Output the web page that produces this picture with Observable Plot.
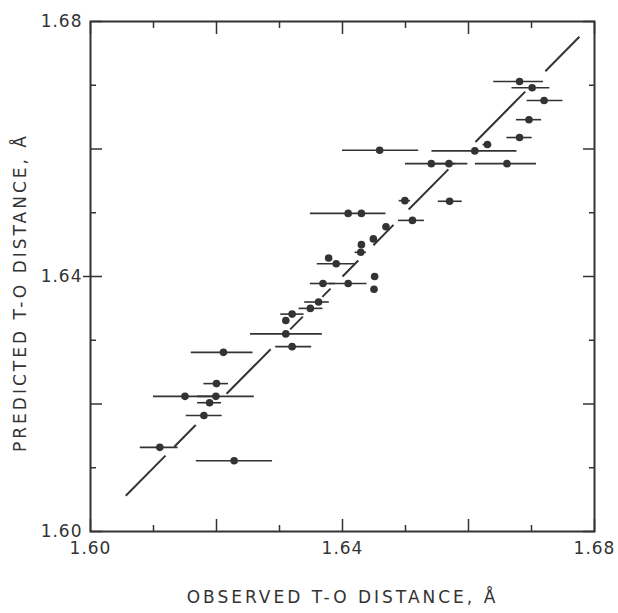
<!DOCTYPE html>
<html>
<head>
<meta charset="utf-8">
<script src="https://cdn.jsdelivr.net/npm/d3@7"></script>
<script src="https://cdn.jsdelivr.net/npm/@observablehq/plot@0.6"></script>
<style>
  html, body { margin: 0; padding: 0; background: #fff; }
  #chart svg { display: block; }
</style>
</head>
<body>
<div id="chart"></div>
<script>
// Observed T-O distance (x), predicted T-O distance (y), and horizontal error-bar limits
const obs   = [1.6211, 1.6150, 1.6199, 1.6200, 1.6189, 1.6180, 1.6110, 1.6228,
               1.6320, 1.6310, 1.6310, 1.6320, 1.6349, 1.6362, 1.6369, 1.6409,
               1.6451, 1.6450, 1.6390, 1.6378, 1.6429, 1.6430, 1.6449, 1.6469,
               1.6409, 1.6430, 1.6511, 1.6499, 1.6570, 1.6459, 1.6610, 1.6630,
               1.6541, 1.6569, 1.6661, 1.6681, 1.6696, 1.6720, 1.6701, 1.6681];
const pred  = [1.6281, 1.6212, 1.6212, 1.6232, 1.6202, 1.6182, 1.6132, 1.6111,
               1.6290, 1.6310, 1.6331, 1.6341, 1.6350, 1.6360, 1.6389, 1.6389,
               1.6400, 1.6380, 1.6420, 1.6429, 1.6438, 1.6450, 1.6459, 1.6478,
               1.6499, 1.6499, 1.6488, 1.6519, 1.6518, 1.6598, 1.6597, 1.6607,
               1.6577, 1.6577, 1.6577, 1.6618, 1.6646, 1.6676, 1.6696, 1.6706];
const errLo = [1.6160, 1.6100, 1.6170, 1.6180, 1.6170, 1.6152, 1.6079, 1.6168,
               1.6294, 1.6254, null,   1.6302, 1.6331, 1.6340, 1.6349, 1.6379,
               null,   null,   1.6360, null,   1.6420, null,   null,   null,
               1.6349, null,   1.6489, 1.6490, 1.6552, 1.6400, 1.6542, 1.6623,
               1.6500, 1.6540, 1.6611, 1.6661, 1.6676, 1.6693, 1.6669, 1.6640];
const errHi = [1.6258, 1.6200, 1.6260, 1.6219, 1.6208, 1.6209, 1.6139, 1.6289,
               1.6351, 1.6368, null,   1.6339, 1.6369, 1.6379, 1.6389, 1.6439,
               null,   null,   1.6421, null,   1.6438, null,   null,   null,
               1.6469, null,   1.6530, 1.6508, 1.6590, 1.6521, 1.6677, 1.6637,
               1.6580, 1.6599, 1.6708, 1.6701, 1.6716, 1.6750, 1.6729, 1.6719];

// 1:1 line, drawn as broken pieces (start and end values along y = x)
const fitStart = [1.6056, 1.6133, 1.6216, 1.6317, 1.6368, 1.6400, 1.6449, 1.6505, 1.6611, 1.6722];
const fitEnd   = [1.6119, 1.6167, 1.6286, 1.6337, 1.6381, 1.6425, 1.6481, 1.6568, 1.6690, 1.6776];

// Tick values and labels
const majorTicks = [1.60, 1.62, 1.64, 1.66, 1.68];
const minorTicks = [1.61, 1.63, 1.65, 1.67];
const labelTicks = [1.60, 1.64, 1.68];
const xTitle = "OBSERVED T-O DISTANCE, Å";
const yTitle = "PREDICTED T-O DISTANCE, Å";

const points = obs.map((x, i) => ({x, y: pred[i], lo: errLo[i], hi: errHi[i]}));
const bars = points.filter(d => d.lo != null);
const segs = fitStart.map((s, i) => ({s, e: fitEnd[i]}));

const ink = "#333";
const fmt = d3.format(".2f");
const blank = () => "";

const chart = Plot.plot({
  width: 618,
  height: 613,
  marginLeft: 90,
  marginRight: 24,
  marginTop: 21,
  marginBottom: 82,
  style: {fontFamily: "'DejaVu Sans', sans-serif", fontSize: "16px", color: ink, background: "#fff"},
  x: {domain: [1.60, 1.68], axis: null},
  y: {domain: [1.60, 1.68], axis: null},
  marks: [
    Plot.frame({stroke: ink, strokeWidth: 2}),
    // inward ticks on all four sides
    ...["bottom", "top"].flatMap(a => [
      Plot.axisX(majorTicks, {anchor: a, tickSize: -12, tickFormat: blank, label: null, stroke: ink, strokeWidth: 1.5}),
      Plot.axisX(minorTicks, {anchor: a, tickSize: -6, tickFormat: blank, label: null, stroke: ink, strokeWidth: 1.5})
    ]),
    ...["left", "right"].flatMap(a => [
      Plot.axisY(majorTicks, {anchor: a, tickSize: -12, tickFormat: blank, label: null, stroke: ink, strokeWidth: 1.5}),
      Plot.axisY(minorTicks, {anchor: a, tickSize: -6, tickFormat: blank, label: null, stroke: ink, strokeWidth: 1.5})
    ]),
    Plot.axisY([1.64], {anchor: "left", tickSize: 7, tickFormat: blank, label: null, stroke: ink, strokeWidth: 1.5}),
    // tick labels
    Plot.axisX(labelTicks, {anchor: "bottom", tickSize: 0, tickPadding: 10, tickFormat: fmt, label: null, fill: ink, fontSize: 17}),
    Plot.axisY(labelTicks, {anchor: "left", tickSize: 0, tickPadding: 8, tickFormat: fmt, label: null, fill: ink, fontSize: 17}),
    // axis titles
    Plot.text([xTitle], {text: d => d, frameAnchor: "bottom", textAnchor: "middle", dy: 66, fill: ink, fontSize: 17, lineAnchor: "middle"}),
    Plot.text([yTitle], {text: d => d, frameAnchor: "left", textAnchor: "middle", dx: -70, dy: 16, rotate: -90, fill: ink, fontSize: 17, lineAnchor: "middle"}),
    // 1:1 line
    Plot.link(segs, {x1: "s", y1: "s", x2: "e", y2: "e", stroke: ink, strokeWidth: 2}),
    // error bars and points
    Plot.ruleY(bars, {y: "y", x1: "lo", x2: "hi", stroke: ink, strokeWidth: 1.6}),
    Plot.dot(points, {x: "x", y: "y", r: 3.8, fill: ink, stroke: "none"})
  ]
});

d3.select(chart).selectAll("text").style("letter-spacing", "1px");
d3.select(chart).selectAll("g[aria-label='text'] text").style("letter-spacing", "3px");
document.getElementById("chart").appendChild(chart);
</script>
</body>
</html>
